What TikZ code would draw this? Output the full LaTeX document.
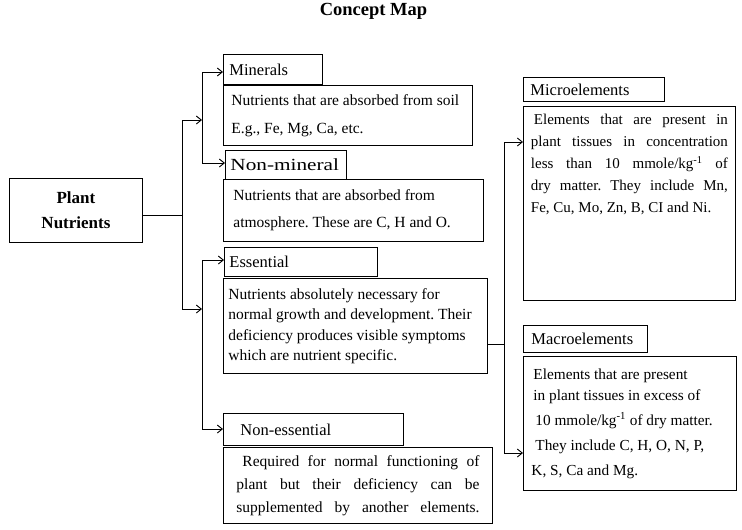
\documentclass[tikz,border=0pt]{standalone}
\usepackage{fontspec}
\usepackage{graphicx}
\setmainfont{Liberation Serif}
\usetikzlibrary{arrows.meta,calc}
\frenchspacing
\newcommand{\jl}[2]{{\spaceskip=0pt\xspaceskip=0pt\makebox[#1][s]{#2}}}
\begin{document}
\begin{tikzpicture}[x=1pt,y=-1pt,
  bx/.style={draw, line width=0.9pt, anchor=north west, inner ysep=0pt},
  lbl/.style={bx, align=flush left, font=\fontsize{16.5}{20}\selectfont},
  dsc/.style={bx, align=flush left},
  conn/.style={line width=0.9pt, line cap=rect},
  arr/.style={line width=0.9pt, -{Straight Barb[length=5pt,width=8pt]}}
]
\useasboundingbox (0,0) rectangle (742,530);

\node[font=\bfseries\fontsize{18.5}{22}\selectfont, anchor=base] (title) at (373.5,16) {Concept Map};

\node[bx, align=center, text width=125pt, inner xsep=4pt, minimum height=64pt,
      font=\bfseries\fontsize{17}{25}\selectfont] (pn) at (9,178) {Plant\\Nutrients};

\node[lbl, inner xsep=6pt, text width=87pt, minimum height=30pt] (minl) at (223,54) {Minerals};
\node[dsc, font=\fontsize{15.5}{28.3}\selectfont, inner xsep=8pt, text width=233pt, minimum height=60pt] (mind) at (223,85)
  {Nutrients that are absorbed from soil\\E.g., Fe, Mg, Ca, etc.};

\node[lbl, font=\fontsize{17}{20}\selectfont, inner xsep=5pt, text width=111pt, minimum height=29pt] (nonminl) at (225,150)
  {\scalebox{1.25}[1]{Non-mineral}};
\node[dsc, font=\fontsize{15.5}{27}\selectfont, inner xsep=10pt, text width=240pt, minimum height=62pt] (nonmind) at (223,179)
  {Nutrients that are absorbed from\\atmosphere. These are C, H and O.};

\node[lbl, inner xsep=5pt, text width=143pt, minimum height=29pt] (essl) at (224,247) {Essential};
\node[dsc, font=\fontsize{15.5}{20.5}\selectfont, inner xsep=5pt, text width=254pt, minimum height=95pt] (essd) at (223,278)
  {Nutrients absolutely necessary for\\normal growth and development. Their\\deficiency produces visible symptoms\\which are nutrient specific.};

\node[lbl, inner xsep=6pt, text width=168pt, minimum height=32pt] (nonessl) at (223,413) {\hspace*{11pt}Non-essential};
\node[dsc, font=\fontsize{15.5}{23}\selectfont, inner xsep=13pt, text width=243pt, minimum height=76pt] (nonessd) at (223,447)
  {\hspace*{6pt}\jl{237pt}{Required for normal functioning of}\\\jl{243pt}{plant but their deficiency can be}\\\jl{243pt}{supplemented by another elements.}};

\node[lbl, inner xsep=7pt, text width=127pt, minimum height=24pt] (microl) at (523,77) {Microelements};
\node[bx, inner xsep=7.5pt, font=\fontsize{15}{22}\selectfont] (microd) at (523,106)
  {\parbox[c][194pt][t]{197pt}{\vspace*{8pt}\hspace*{3pt}\jl{194pt}{Elements that are present in}\\
   \jl{197pt}{plant tissues in concentration}\\
   \jl{197pt}{less than 10 mmole/kg\textsuperscript{-1} of}\\
   \jl{197pt}{dry matter. They include Mn,}\\
   Fe, Cu, Mo, Zn, B, CI and Ni.}};

\node[lbl, inner xsep=8pt, text width=108pt, minimum height=27pt] (macrol) at (523,325) {Macroelements};
\node[dsc, font=\fontsize{15.3}{25}\selectfont, inner xsep=10pt, text width=193pt, minimum height=134pt] (macrod) at (523,356)
  {Elements that are present\\[-4pt]in plant tissues in excess of\\\hspace*{2pt}10 mmole/kg\textsuperscript{-1} of dry matter.\\\hspace*{2pt}They include C, H, O, N, P,\\\hspace*{-2pt}K, S, Ca and Mg.};

% junctions
\coordinate (pnout) at ($(pn.east)+(0,5)$);
\coordinate (t1) at (182,120);
\coordinate (t2) at (182,309);
\coordinate (b1t) at (202,72);
\coordinate (b1b) at (202,163);
\coordinate (b2t) at (202,260);
\coordinate (b2b) at (202,429);
\coordinate (rt) at (504,142);
\coordinate (rm) at (504,344);
\coordinate (rb) at (504,453);

\draw[conn] (pnout) -- (pnout -| t1);
\draw[conn] (t1) -- (t2);
\draw[arr] (t1) -- (t1 -| b1t);
\draw[arr] (t2) -- (t2 -| b2t);

\draw[conn] (b1t) -- (b1b);
\draw[arr] (b1t) -- (b1t -| minl.west);
\draw[arr] (b1b) -- (b1b -| nonminl.west);

\draw[conn] (b2t) -- (b2b);
\draw[arr] (b2t) -- (b2t -| essl.west);
\draw[arr] (b2b) -- (b2b -| nonessl.west);

\draw[conn] (rm -| essd.east) -- (rm);
\draw[conn] (rt) -- (rb);
\draw[arr] (rt) -- (rt -| microd.west);
\draw[arr] (rb) -- (rb -| macrod.west);
\end{tikzpicture}
\end{document}
